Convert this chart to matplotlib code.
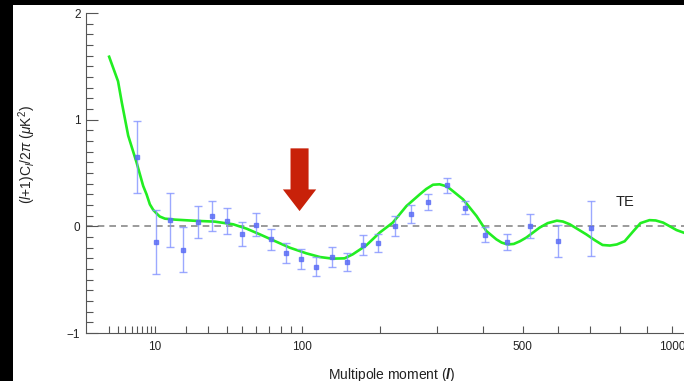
import numpy as np
import matplotlib
matplotlib.use("Agg")
import matplotlib.pyplot as plt
from matplotlib.patches import Rectangle
from matplotlib.ticker import FixedLocator, FixedFormatter, NullFormatter, MultipleLocator

plt.rcParams['font.family'] = ['Liberation Sans', 'DejaVu Sans']
plt.rcParams['mathtext.fontset'] = 'custom'
plt.rcParams['mathtext.rm'] = 'Liberation Sans'
plt.rcParams['mathtext.it'] = 'Liberation Sans:italic'
plt.rcParams['mathtext.bf'] = 'Liberation Sans:bold:italic'

# binned TE measurements (multipole, value, 1-sigma error)
data_l = [6, 10.4, 14.4, 19, 25, 32, 40, 49.4, 60, 71.5, 84.5, 99, 115, 134,
          153, 175, 198, 224, 252, 284, 320, 360, 405, 459, 520, 599, 704]
data_te = [0.65, -0.145, 0.06, -0.22, 0.04, 0.095, 0.05, -0.072, 0.016, -0.122,
           -0.247, -0.303, -0.378, -0.288, -0.332, -0.178, -0.153, 0.003, 0.115,
           0.228, 0.384, 0.175, -0.078, -0.143, 0.003, -0.138, -0.019]
data_err = [0.34, 0.30, 0.25, 0.21, 0.15, 0.14, 0.12, 0.11, 0.105, 0.10, 0.095,
            0.095, 0.09, 0.09, 0.085, 0.094, 0.085, 0.09, 0.088, 0.078, 0.067,
            0.06, 0.068, 0.075, 0.11, 0.147, 0.255]

# best-fit model curve
model_l = [2, 3, 3.5, 4.45, 5.9, 7.24, 7.98, 8.75, 9.56, 10.4, 11.3, 12.8, 16, 23.8,
           33.4, 44, 52.9, 62.6, 74.9, 88.4, 105, 120, 135, 150, 161, 180, 200, 221,
           244, 268, 280, 293, 306, 318, 327, 355, 385, 408, 432, 445, 460, 476,
           492, 509, 546, 569, 596, 614, 635, 687, 715, 741, 766, 790, 818, 848,
           876, 910, 934, 963, 990, 1017, 1072]
model_te = [1.59, 1.36, 1.16, 0.85, 0.60, 0.378, 0.30, 0.206, 0.155, 0.122, 0.092,
            0.072, 0.063, 0.052, 0.044, 0.019, -0.022, -0.075, -0.138, -0.2, -0.253,
            -0.288, -0.303, -0.30, -0.262, -0.178, -0.059, 0.035, 0.19, 0.30, 0.35,
            0.39, 0.394, 0.378, 0.353, 0.253, 0.097, -0.044, -0.122, -0.152, -0.17,
            -0.165, -0.14, -0.106, -0.012, 0.03, 0.053, 0.045, 0.019, -0.075, -0.13,
            -0.175, -0.18, -0.17, -0.14, -0.05, 0.03, 0.058, 0.055, 0.035, 0.0,
            -0.035, -0.08]

x_major = [10, 100, 500, 1000]
x_labels = ['10', '100', '500', '1000']
x_minor = [2, 3, 4, 5, 6, 7, 8, 9, 20, 30, 40, 50, 60, 70, 80, 90,
           200, 300, 400, 600, 700, 800, 900]

POW = 0.403


def fwd(x):
    return np.power(np.clip(x, 1e-6, None), POW)


def inv(u):
    return np.power(np.clip(u, 0, None), 1 / POW)


W, H = 684, 381
fig = plt.figure(figsize=(W / 100, H / 100), dpi=100, facecolor='black')
fig.patches.append(Rectangle((13 / W, 0), 1 - 13 / W, 1 - 5 / H,
                             transform=fig.transFigure, facecolor='white',
                             edgecolor='none', zorder=-1))

ax = fig.add_axes([86 / W, 48 / H, (698 - 86) / W, 320 / H])
ax.set_facecolor('none')
ax.set_xscale('function', functions=(fwd, inv))
ax.set_xlim(0.43, 1107)
ax.set_ylim(-1, 2)

ax.axhline(0, color='#8a8a8a', lw=1.2, ls=(0, (4, 3)), zorder=1)
ax.plot(model_l, model_te, color='#22ee22', lw=1.9, zorder=3)
ax.errorbar(data_l, data_te, yerr=data_err, fmt='s', ms=3.5,
            color='#5a6cf5', ecolor='#8494ff', elinewidth=1, capsize=3,
            capthick=1, alpha=0.8, zorder=4)

# red arrow marking the dip
ax.annotate('', xy=(98, 0.143), xytext=(98, 0.731),
            arrowprops=dict(arrowstyle='simple,head_length=15.6,head_width=24,tail_width=13',
                            mutation_scale=1, facecolor='#c82109', edgecolor='none',
                            lw=0, shrinkA=0, shrinkB=0))

ax.text(818, 0.225, 'TE', ha='center', va='center', fontsize=10.5, color='#222222')

ax.xaxis.set_major_locator(FixedLocator(x_major))
ax.xaxis.set_major_formatter(FixedFormatter(x_labels))
ax.xaxis.set_minor_locator(FixedLocator(x_minor))
ax.xaxis.set_minor_formatter(NullFormatter())
ax.yaxis.set_major_locator(MultipleLocator(1))
ax.yaxis.set_minor_locator(MultipleLocator(0.1))

ax.tick_params(axis='x', which='both', direction='in', length=5, width=0.8,
               color='#555555', labelcolor='#222222', labelsize=8.5, pad=6)
ax.tick_params(axis='y', which='major', direction='in', length=8.5, width=0.8,
               color='#555555', labelcolor='#222222', labelsize=8.5, pad=4)
ax.tick_params(axis='y', which='minor', direction='in', length=4.8, width=0.8,
               color='#555555')

for side in ['top', 'right']:
    ax.spines[side].set_visible(False)
for side in ['left', 'bottom']:
    ax.spines[side].set_color('#555555')
    ax.spines[side].set_linewidth(0.8)

ax.set_xlabel(r'Multipole moment ($\mathbf{l}$)', fontsize=10, color='#222222',
              labelpad=9)
fig.text(27 / W, 1 - 155 / H, r'($\mathit{l}$+1)C$_{\mathit{l}}$/2$\pi$ ($\mu$K$^2$)',
         rotation=90, ha='center', va='center', fontsize=10, color='#222222')

fig.savefig('out.png', dpi=100, facecolor='black')
